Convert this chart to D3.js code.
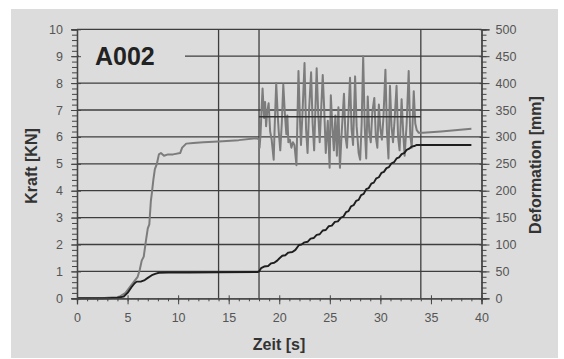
<!DOCTYPE html>
<html>
  <head>
    <meta charset="utf-8">
    <style>
      body { margin: 0; padding: 0; background: #fff; }
      svg { display: block; font-family: 'Liberation Sans', Arial, sans-serif; }
    </style>
  </head>
  <body>
    <div id="chart"></div>
    <script src="https://d3js.org/d3.v7.min.js"></script>
    <script>
      // Kraft [KN], gray line: [time s, force kN]
      var kraft = [
        [0, 0], [2.5, 0], [3, 0.02], [4, 0.04], [4.3, 0.08], [4.8, 0.2], [5.3, 0.45],
        [5.6, 0.6], [6, 0.8], [6.2, 1.05], [6.4, 1.4], [6.6, 1.55], [6.8, 2.1], [7.0, 2.6],
        [7.15, 2.75], [7.3, 3.6], [7.4, 3.9], [7.55, 4.4], [7.7, 4.8], [7.9, 5.0], [8.1, 5.35],
        [8.3, 5.4], [8.6, 5.3], [9.0, 5.35], [9.5, 5.35], [10.2, 5.4], [10.4, 5.6], [10.8, 5.75],
        [11.5, 5.77], [12.5, 5.8], [14, 5.83], [16, 5.88], [17.8, 5.95], [18, 5.9], [18.05, 5.6],
        [18.15, 6.1], [18.25, 7.0], [18.35, 7.8], [18.5, 6.7], [18.6, 7.3], [18.7, 6.4], [18.8, 6.9],
        [18.95, 7.25], [19.1, 6.2], [19.25, 5.9], [19.45, 5.15], [19.55, 6.4], [19.7, 8.0],
        [19.85, 6.8], [19.95, 6.2], [20.1, 5.5], [20.25, 6.5], [20.4, 7.95], [20.55, 6.9],
        [20.7, 6.1], [20.8, 6.8], [20.9, 5.8], [21.05, 5.9], [21.2, 5.6], [21.35, 5.8], [21.5, 5.7],
        [21.7, 4.95], [21.9, 8.45], [22.05, 6.6], [22.15, 5.7], [22.3, 6.9], [22.5, 8.75],
        [22.65, 6.3], [22.8, 5.4], [22.95, 7.0], [23.15, 8.4], [23.3, 6.5], [23.45, 5.5],
        [23.7, 8.55], [23.85, 6.9], [24.0, 5.8], [24.3, 8.3], [24.45, 7.0], [24.6, 5.4],
        [24.8, 6.6], [24.98, 4.85], [25.1, 7.55], [25.25, 6.4], [25.4, 5.5], [25.55, 6.8],
        [25.7, 5.3], [25.85, 7.1], [26.0, 4.85], [26.15, 6.0], [26.4, 7.6], [26.55, 6.0],
        [26.7, 5.6], [26.85, 6.9], [27.0, 8.2], [27.15, 6.3], [27.3, 5.7], [27.5, 8.25],
        [27.65, 6.4], [27.85, 5.4], [28.0, 5.15], [28.15, 6.5], [28.3, 9.0], [28.45, 6.4],
        [28.6, 5.2], [28.75, 7.5], [28.9, 6.2], [29.05, 5.8], [29.2, 6.9], [29.4, 7.45],
        [29.55, 6.0], [29.7, 5.6], [29.85, 7.2], [30.0, 6.3], [30.15, 5.9], [30.3, 6.7],
        [30.5, 8.5], [30.65, 6.2], [30.8, 5.2], [30.95, 7.9], [31.1, 6.4], [31.25, 5.8],
        [31.4, 6.6], [31.6, 7.9], [31.75, 6.0], [31.9, 5.5], [32.1, 7.4], [32.25, 6.2],
        [32.4, 5.3], [32.6, 6.5], [32.8, 8.45], [32.95, 6.1], [33.1, 5.6], [33.3, 7.7],
        [33.45, 6.5], [33.6, 6.25], [33.8, 6.15], [34.2, 6.15], [36, 6.2], [39, 6.3]
      ];

      // Deformation [mm], black line: [time s, mm]
      var deformation = [
        [0, 0], [3, 0], [4, 1], [4.6, 3], [5.0, 10], [5.4, 21], [5.7, 28], [5.9, 31], [6.3, 31],
        [6.7, 34], [7.0, 38], [7.4, 43], [7.8, 46], [8.1, 47.5], [9, 48], [11, 48], [14, 48.5],
        [17.9, 49], [18.0, 50], [18.2, 56], [18.5, 59], [18.9, 60], [19.2, 65], [19.5, 66],
        [19.8, 70], [20.0, 74], [20.3, 79], [20.6, 80], [20.9, 85], [21.3, 86], [21.6, 90],
        [21.95, 99], [22.2, 100], [22.5, 104], [22.8, 105], [23.1, 111], [23.4, 112], [23.7, 118],
        [24.0, 119], [24.3, 126], [24.6, 127], [24.9, 134], [25.2, 135], [25.5, 142], [25.8, 143],
        [26.1, 150], [26.35, 152], [26.6, 160], [26.85, 162], [27.1, 171], [27.35, 173],
        [27.6, 181], [27.85, 183], [28.1, 192], [28.35, 194], [28.6, 203], [28.85, 205],
        [29.1, 213], [29.35, 215], [29.6, 223], [29.85, 225], [30.1, 233], [30.35, 235],
        [30.6, 242], [30.85, 244], [31.1, 251], [31.35, 253], [31.6, 260], [31.85, 262],
        [32.1, 268], [32.35, 270], [32.6, 276], [32.85, 278], [33.1, 282], [33.35, 283],
        [33.6, 285], [39, 285]
      ];

      // mean force in the cyclic phase
      var meanKraft = [[18, 6.75], [34, 6.75]];

      var markerLines = [14, 18, 34];
      var kraftTicks = d3.range(0, 11, 1);
      var deformTicks = d3.range(0, 501, 50);
      var zeitTicks = d3.range(0, 41, 5);

      var width = 564, height = 359;

      var svg = d3.select("#chart").append("svg")
        .attr("width", width)
        .attr("height", height);

      var x = d3.scaleLinear().domain([0, 40]).range([77, 481.5]),
          yL = d3.scaleLinear().domain([0, 10]).range([298.3, 29.3]),
          yR = d3.scaleLinear().domain([0, 500]).range([298.3, 29.3]);

      var gridColor = "#3e3e3e";

      // panel
      svg.append("rect")
        .attr("x", 11).attr("y", 9)
        .attr("width", 547).attr("height", 349)
        .attr("fill", "#dcdcdc");

      // horizontal grid
      svg.append("g").selectAll("line")
        .data(kraftTicks.slice(1))
        .enter().append("line")
          .attr("x1", x(0)).attr("x2", x(40))
          .attr("y1", d => yL(d)).attr("y2", d => yL(d))
          .attr("stroke", gridColor)
          .attr("stroke-width", 1.3);

      // vertical marker lines
      svg.append("g").selectAll("line")
        .data(markerLines)
        .enter().append("line")
          .attr("x1", d => x(d)).attr("x2", d => x(d))
          .attr("y1", yL(10)).attr("y2", yL(0))
          .attr("stroke", gridColor)
          .attr("stroke-width", 1.3);

      // label box hides the 9 kN line
      svg.append("rect")
        .attr("x", x(0) + 2).attr("y", 40)
        .attr("width", 106).attr("height", 34)
        .attr("fill", "#dcdcdc");

      svg.append("text")
        .attr("x", 95).attr("y", 65)
        .attr("font-size", "25px")
        .attr("font-weight", "bold")
        .attr("fill", "#222")
        .text("A002");

      var lineK = d3.line().x(d => x(d[0])).y(d => yL(d[1]));
      var lineD = d3.line().x(d => x(d[0])).y(d => yR(d[1]));

      svg.append("path")
        .datum(kraft)
        .attr("fill", "none")
        .attr("stroke", "#7c7c7c")
        .attr("stroke-width", 2)
        .attr("stroke-linejoin", "round")
        .attr("d", lineK);

      svg.append("path")
        .datum(meanKraft)
        .attr("fill", "none")
        .attr("stroke", "#333")
        .attr("stroke-width", 1.6)
        .attr("d", lineK);

      svg.append("path")
        .datum(deformation)
        .attr("fill", "none")
        .attr("stroke", "#1e1e1e")
        .attr("stroke-width", 1.9)
        .attr("stroke-linejoin", "round")
        .attr("d", lineD);

      // axes
      function styleAxis(g) {
        g.selectAll(".domain").attr("stroke", "#444").attr("stroke-width", 1.3);
        g.selectAll(".tick line").attr("stroke", "#444").attr("stroke-width", 1);
        g.selectAll(".tick text")
          .attr("fill", "#555")
          .attr("font-size", "12.5px")
          .attr("font-family", "'Liberation Sans', Arial, sans-serif");
      }

      // left minor
      svg.append("g")
        .attr("transform", "translate(" + x(0) + ",0)")
        .call(d3.axisLeft(yL).tickValues(d3.range(0, 10.01, 0.2)).tickSize(5).tickFormat(""))
        .call(styleAxis);
      var left = svg.append("g")
        .attr("transform", "translate(" + x(0) + ",0)")
        .call(d3.axisLeft(yL).tickValues(kraftTicks).tickSize(6).tickPadding(8))
        .call(styleAxis);
      left.selectAll(".tick line").attr("x1", 4);

      // right minor
      svg.append("g")
        .attr("transform", "translate(" + x(40) + ",0)")
        .call(d3.axisRight(yR).tickValues(d3.range(0, 501, 10)).tickSize(5).tickFormat(""))
        .call(styleAxis);
      var right = svg.append("g")
        .attr("transform", "translate(" + x(40) + ",0)")
        .call(d3.axisRight(yR).tickValues(deformTicks).tickSize(8).tickPadding(6))
        .call(styleAxis);
      right.selectAll(".tick line").attr("x1", -2);

      // bottom minor
      svg.append("g")
        .attr("transform", "translate(0," + yL(0) + ")")
        .call(d3.axisBottom(x).tickValues(d3.range(0, 41, 1)).tickSize(3).tickFormat(""))
        .call(styleAxis);
      var bottom = svg.append("g")
        .attr("transform", "translate(0," + yL(0) + ")")
        .call(d3.axisBottom(x).tickValues(zeitTicks).tickSize(6).tickPadding(9))
        .call(styleAxis);
      bottom.selectAll(".tick line").attr("y1", -3);

      // titles
      svg.append("text")
        .attr("transform", "translate(37,166) rotate(-90)")
        .attr("text-anchor", "middle")
        .attr("font-size", "16px")
        .attr("font-weight", "bold")
        .attr("fill", "#333")
        .text("Kraft [KN]");

      svg.append("text")
        .attr("transform", "translate(541,165) rotate(-90)")
        .attr("text-anchor", "middle")
        .attr("font-size", "16px")
        .attr("font-weight", "bold")
        .attr("fill", "#333")
        .text("Deformation [mm]");

      svg.append("text")
        .attr("x", 279).attr("y", 350)
        .attr("text-anchor", "middle")
        .attr("font-size", "16px")
        .attr("font-weight", "bold")
        .attr("fill", "#333")
        .text("Zeit [s]");
    </script>
  </body>
</html>
